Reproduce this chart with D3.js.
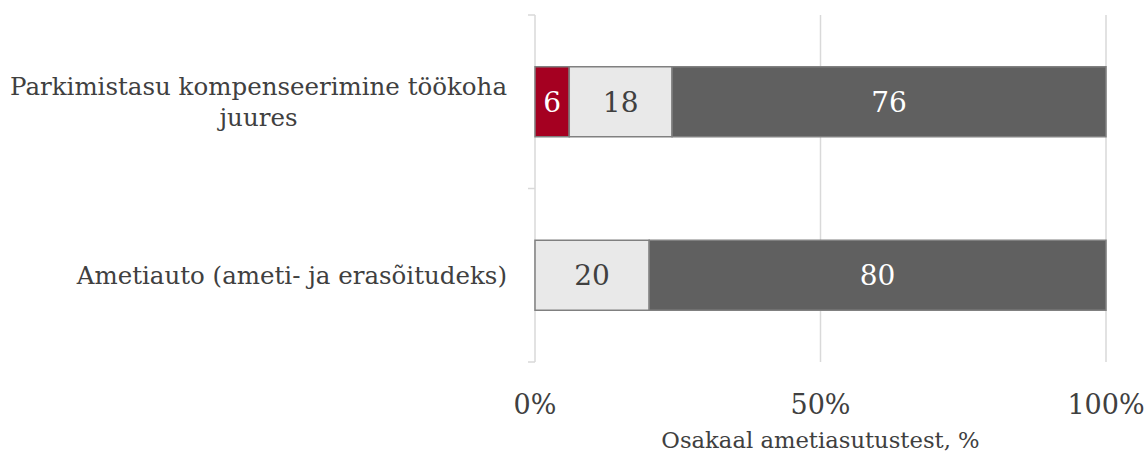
<!DOCTYPE html>
<meta charset="utf-8">
<style>
body { margin: 0; background: #fff; }
svg text { font-family: "DejaVu Serif", "Liberation Serif", serif; fill: #404040; }
.grid line { stroke: #d9d9d9; stroke-width: 1.5px; }
.bar { stroke: #808080; stroke-width: 1.5px; }
</style>
<body>
<div id="chart"></div>
<script src="https://d3js.org/d3.v7.min.js"></script>
<script>
// data
var categories = ["Parkimistasu kompenseerimine töökoha juures", "Ametiauto (ameti- ja erasõitudeks)"];
var seriesNames = ["Jah", "Osaliselt", "Ei"];
var seriesColors = ["#a50021", "#e9e9e9", "#606060"];
var labelColors = ["#ffffff", "#404040", "#ffffff"];
var values = [
  [6, 18, 76],
  [0, 20, 80]
];
var xTicks = [0, 50, 100];
var xTitle = "Osakaal ametiasutustest, %";

var width = 1148, height = 455;
var margin = {top: 15, right: 42, bottom: 93, left: 535};

var svg = d3.select("#chart").append("svg")
    .attr("width", width)
    .attr("height", height);

var x = d3.scaleLinear().domain([0, 100]).range([margin.left, width - margin.right]);
var y = d3.scaleBand().domain(categories).range([margin.top, height - margin.bottom]);
var barH = 70;

// gridlines
var grid = svg.append("g").attr("class", "grid");
grid.selectAll(".v").data(xTicks.slice(1)).enter().append("line")
    .attr("x1", function(d) { return x(d); })
    .attr("x2", function(d) { return x(d); })
    .attr("y1", y.range()[0])
    .attr("y2", y.range()[1]);

// left axis line with category ticks
grid.append("line")
    .attr("x1", x(0)).attr("x2", x(0))
    .attr("y1", y.range()[0]).attr("y2", y.range()[1]);
var bounds = categories.map(function(c) { return y(c); }).concat([y.range()[1]]);
grid.selectAll(".t").data(bounds).enter().append("line")
    .attr("x1", x(0) - 7).attr("x2", x(0))
    .attr("y1", function(d) { return d; })
    .attr("y2", function(d) { return d; });

// stacked segments
var rows = values.map(function(v, i) {
  var x0 = 0;
  return v.map(function(val, j) {
    var seg = {cat: categories[i], s: j, v: val, x0: x0, x1: x0 + val};
    x0 += val;
    return seg;
  }).filter(function(s) { return s.v > 0; });
});
var segs = [].concat.apply([], rows);

svg.selectAll(".bar").data(segs).enter().append("rect")
    .attr("class", "bar")
    .attr("x", function(d) { return x(d.x0); })
    .attr("width", function(d) { return x(d.x1) - x(d.x0); })
    .attr("y", function(d) { return y(d.cat) + (y.bandwidth() - barH) / 2; })
    .attr("height", barH)
    .attr("fill", function(d) { return seriesColors[d.s]; })
    .attr("stroke", function(d) { return d.s === 0 ? seriesColors[0] : "#808080"; });

svg.selectAll(".lbl").data(segs).enter().append("text")
    .attr("x", function(d) { return x((d.x0 + d.x1) / 2); })
    .attr("y", function(d) { return y(d.cat) + y.bandwidth() / 2; })
    .attr("dy", "0.36em")
    .attr("text-anchor", "middle")
    .style("font-size", "28px")
    .style("fill", function(d) { return labelColors[d.s]; })
    .text(function(d) { return d.v; });

// category labels, wrapped, block right-aligned, lines centered
var maxW = 500, rightEdge = 507, lineH = 31, catSize = "24.5px";
categories.forEach(function(c) {
  var g = svg.append("g");
  var words = c.split(" "), lines = [], line = [];
  var probe = g.append("text").style("font-size", catSize);
  words.forEach(function(w) {
    line.push(w);
    probe.text(line.join(" "));
    if (probe.node().getComputedTextLength() > maxW && line.length > 1) {
      line.pop();
      lines.push(line.join(" "));
      line = [w];
    }
  });
  lines.push(line.join(" "));
  var widths = lines.map(function(l) { probe.text(l); return probe.node().getComputedTextLength(); });
  probe.remove();
  var blockW = d3.max(widths);
  var cx = rightEdge - blockW / 2;
  var cy = y(c) + y.bandwidth() / 2 - (lines.length - 1) * lineH / 2;
  g.selectAll("text").data(lines).enter().append("text")
      .attr("x", cx)
      .attr("y", function(d, i) { return cy + i * lineH; })
      .attr("dy", "0.35em")
      .attr("text-anchor", "middle")
      .style("font-size", catSize)
      .text(function(d) { return d; });
});

// x tick labels
svg.selectAll(".xt").data(xTicks).enter().append("text")
    .attr("x", function(d) { return x(d); })
    .attr("y", 405)
    .attr("dy", "0.35em")
    .attr("text-anchor", "middle")
    .style("font-size", "27px")
    .text(function(d) { return d + "%"; });

svg.append("text")
    .attr("x", x(50))
    .attr("y", 440)
    .attr("dy", "0.35em")
    .attr("text-anchor", "middle")
    .style("font-size", "22.7px")
    .text(xTitle);
</script>
</body>
